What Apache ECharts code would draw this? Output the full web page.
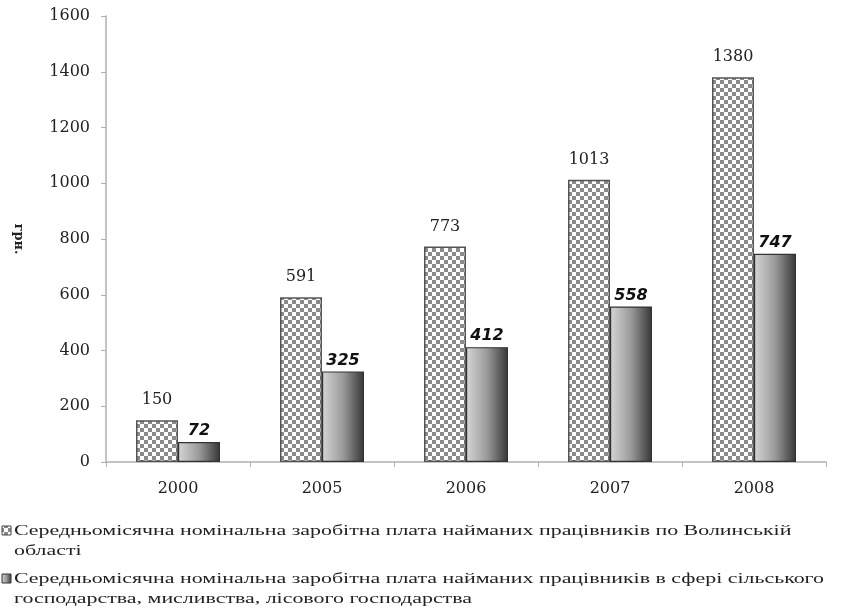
<!DOCTYPE html>
<html><head><meta charset="utf-8">
<script src="https://cdn.jsdelivr.net/npm/echarts@6/dist/echarts.min.js"></script>
<style>html,body{margin:0;padding:0;background:#fff}#c{width:841px;height:610px}</style>
</head><body><div id="c"></div>
<script>
const categories = ['2000', '2005', '2006', '2007', '2008'];
const oblastValues = [150, 591, 773, 1013, 1380];
const agroValues = [72, 325, 412, 558, 747];
const seriesNames = [
  'Середньомісячна номінальна заробітна плата найманих працівників по Волинській\nобласті',
  'Середньомісячна номінальна заробітна плата найманих працівників в сфері сільського\nгосподарства, мисливства, лісового господарства'
];
const yTicks = [0, 200, 400, 600, 800, 1000, 1200, 1400, 1600];

function checker() {
  const c = document.createElement('canvas');
  c.width = 8; c.height = 8;
  const g = c.getContext('2d');
  g.fillStyle = '#ffffff'; g.fillRect(0, 0, 8, 8);
  g.fillStyle = '#8a8a8a';
  g.fillRect(0, 0, 4, 4); g.fillRect(4, 4, 4, 4);
  return c;
}
const pat = { image: checker(), repeat: 'repeat' };
const grad = { type: 'linear', x: 0, y: 0, x2: 1, y2: 0,
  colorStops: [{ offset: 0, color: '#d6d6d6' }, { offset: 0.5, color: '#9a9a9a' }, { offset: 1, color: '#363636' }] };

const chart = echarts.init(document.getElementById('c'));
const serif = 'DejaVu Serif';
chart.setOption({
  animation: false,
  grid: { left: 106, right: 15, top: 16, bottom: 148 },
  xAxis: {
    type: 'category', data: categories,
    axisLine: { lineStyle: { color: '#b0b0b0', width: 1.5 } },
    axisTick: { show: true, length: 5, lineStyle: { color: '#b0b0b0' } },
    axisLabel: { fontFamily: serif, fontSize: 16, color: '#222', margin: 19 }
  },
  yAxis: {
    type: 'value', min: 0, max: 1600, interval: 200,
    name: 'грн.', nameLocation: 'middle', nameRotate: -90, nameGap: 81,
    nameTextStyle: { fontFamily: serif, fontSize: 13, fontWeight: 'bold', color: '#222' },
    axisLine: { show: true, lineStyle: { color: '#b0b0b0', width: 1.5 } },
    axisTick: { show: true, length: 5, lineStyle: { color: '#b0b0b0' } },
    splitLine: { show: false },
    axisLabel: { fontFamily: serif, fontSize: 16, color: '#222', margin: 16,
      formatter: v => yTicks.includes(v) ? String(v) : '' }
  },
  series: [
    { name: seriesNames[0], type: 'bar', data: oblastValues, barWidth: 42, barGap: '0%',
      itemStyle: { color: pat, borderColor: '#555', borderWidth: 1.5 },
      label: { show: true, position: 'top', distance: 12, fontFamily: serif, fontSize: 16, color: '#222' } },
    { name: seriesNames[1], type: 'bar', data: agroValues, barWidth: 42,
      itemStyle: { color: grad, borderColor: '#333', borderWidth: 1.2 },
      label: { show: true, position: 'top', distance: 3, fontFamily: 'DejaVu Sans', fontSize: 16,
        fontWeight: 'bold', fontStyle: 'italic', color: '#111' } }
  ],
  graphic: [
    { type: 'rect', shape: { x: 2, y: 526, width: 9, height: 9 }, style: { fill: pat, stroke: '#444', lineWidth: 1 } },
    { type: 'text', x: 14, y: 521, scaleX: 1.46, style: { text: seriesNames[0], font: '15px "Liberation Serif"', fill: '#222', lineHeight: 20 } },
    { type: 'rect', shape: { x: 2, y: 574, width: 9, height: 9 }, style: { fill: grad, stroke: '#333', lineWidth: 1 } },
    { type: 'text', x: 14, y: 569, scaleX: 1.46, style: { text: seriesNames[1], font: '15px "Liberation Serif"', fill: '#222', lineHeight: 20 } }
  ]
});
</script></body></html>
